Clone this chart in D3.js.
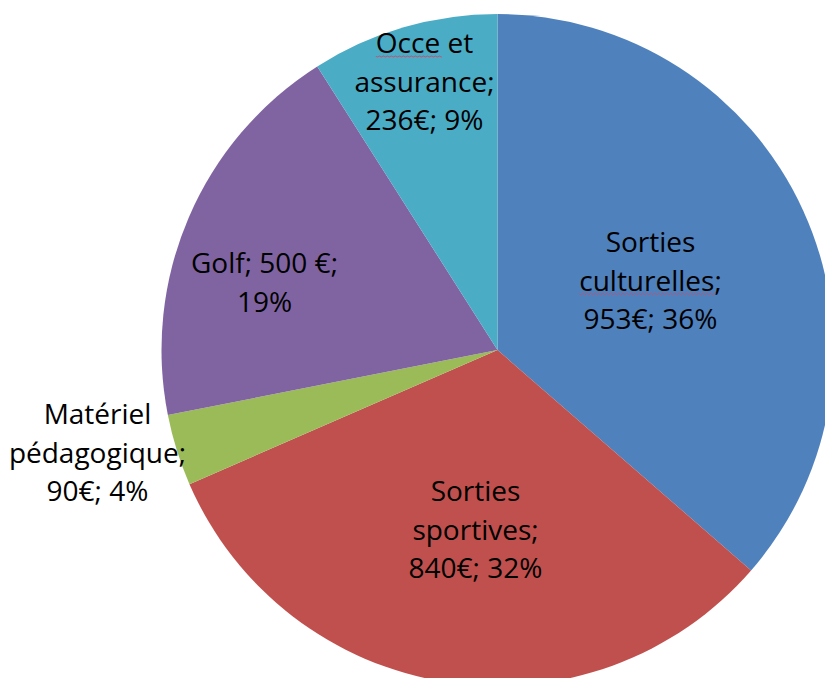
<!DOCTYPE html>
<html>
<head>
<meta charset="utf-8">
<script src="https://cdn.jsdelivr.net/npm/d3@7"></script>
<style>
  html, body { margin: 0; padding: 0; background: #fff; }
  svg { display: block; overflow: hidden; }
  text { font-family: "Open Sans", sans-serif; font-size: 28px; fill: #000; }
</style>
</head>
<body>
<div id="chart"></div>
<script>
// Data
const categories = ["Sorties culturelles", "Sorties sportives", "Matériel pédagogique", "Golf", "Occe et assurance"];
const amounts = [953, 840, 90, 500, 236];
const labelLines = [
  ["Sorties", "culturelles;", "953€; 36%"],
  ["Sorties", "sportives;", "840€; 32%"],
  ["Matériel", "pédagogique;", "90€; 4%"],
  ["Golf; 500 €;", "19%"],
  ["Occe et", "assurance;", "236€; 9%"]
];
const colors = ["#4F81BD", "#C0504D", "#9BBB59", "#8064A2", "#4BACC6"];

//Plot dimensions
var width = 825;
var height = 678;
var cx = 497.5, cy = 350;
var radius = 336;
var lineHeight = 38.5;

// label anchor (center x, first baseline) relative to pie center
var labelAnchor = [
  [153, -98],
  [-22, 151],
  [-400, 74],
  [-233, -77],
  [-73, -297]
];
// which label line gets the spell-check squiggle
var squiggle = [1, -1, -1, -1, 0];

var svg = d3.select('#chart')
  .append('svg')
  .attr('width', width)
  .attr('height', height);

var g = svg.append('g')
  .attr('transform', 'translate(' + cx + ',' + cy + ')');

var pie = d3.pie().value(function(d) { return d; }).sort(null);
var arc = d3.arc().innerRadius(0).outerRadius(radius);

g.selectAll('path.slice')
  .data(pie(amounts))
  .enter()
  .append('path')
  .attr('class', 'slice')
  .attr('d', arc)
  .attr('fill', function(d, i) { return colors[i]; });

// Labels
labelLines.forEach(function(lines, i) {
  var a = labelAnchor[i];
  var lg = g.append('g').attr('transform', 'translate(' + a[0] + ',' + a[1] + ')');
  lines.forEach(function(line, j) {
    var t = lg.append('text')
      .attr('x', 0)
      .attr('y', j * lineHeight)
      .attr('text-anchor', 'middle')
      .text(line);
    if (squiggle[i] === j) {
      var word = line.split(' ')[0].replace(';', '');
      var full = t.node().getComputedTextLength();
      var tmp = lg.append('text').text(word);
      var w = tmp.node().getComputedTextLength();
      tmp.remove();
      var x0 = -full / 2, yy = j * lineHeight + 3;
      var d = 'M' + x0 + ',' + yy;
      for (var k = 0; k * 2 < w; k++) {
        d += ' l1,' + (k % 2 ? -1 : 1) + ' l1,0';
      }
      lg.append('path')
        .attr('d', d)
        .attr('fill', 'none')
        .attr('stroke', '#c8506e')
        .attr('stroke-width', 1);
    }
  });
});
</script>
</body>
</html>
